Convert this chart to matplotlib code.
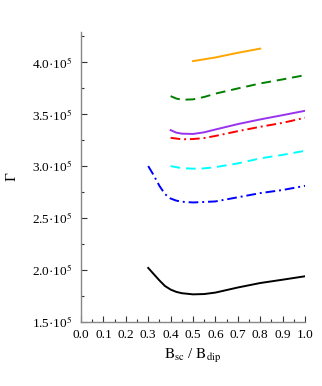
import numpy as np
import matplotlib.pyplot as plt
from matplotlib.ticker import MultipleLocator, FuncFormatter

plt.rcParams['font.family'] = ['Liberation Serif', 'DejaVu Serif']
plt.rcParams['mathtext.fontset'] = 'stix'

# (x = B_sc / B_dip, y = Gamma)
x_black = [0.30, 0.325, 0.35, 0.375, 0.40, 0.425, 0.45, 0.50, 0.55, 0.60, 0.70, 0.80, 0.90, 1.00]
y_black = [2.02e5, 1.96e5, 1.90e5, 1.846e5, 1.812e5, 1.79e5, 1.777e5, 1.766e5, 1.769e5, 1.783e5,
           1.832e5, 1.875e5, 1.907e5, 1.94e5]

x_blue = [0.30, 0.325, 0.35, 0.375, 0.40, 0.425, 0.45, 0.50, 0.60, 0.70, 0.80, 0.90, 1.00]
y_blue = [3.00e5, 2.91e5, 2.81e5, 2.73e5, 2.688e5, 2.668e5, 2.657e5, 2.65e5, 2.66e5, 2.70e5,
          2.74e5, 2.77e5, 2.81e5]

x_cyan = [0.40, 0.45, 0.50, 0.55, 0.60, 0.70, 0.80, 0.90, 1.00]
y_cyan = [3.00e5, 2.98e5, 2.975e5, 2.978e5, 2.99e5, 3.026e5, 3.074e5, 3.108e5, 3.147e5]

x_red = [0.40, 0.45, 0.50, 0.55, 0.60, 0.70, 0.80, 0.90, 1.00]
y_red = [3.272e5, 3.258e5, 3.26e5, 3.27e5, 3.29e5, 3.336e5, 3.378e5, 3.416e5, 3.465e5]

x_purple = [0.40, 0.425, 0.45, 0.50, 0.55, 0.60, 0.70, 0.80, 0.90, 1.00]
y_purple = [3.346e5, 3.322e5, 3.312e5, 3.309e5, 3.325e5, 3.352e5, 3.404e5, 3.449e5, 3.49e5, 3.532e5]

x_green = [0.40, 0.425, 0.45, 0.50, 0.55, 0.60, 0.70, 0.80, 0.90, 1.00]
y_green = [3.673e5, 3.65e5, 3.638e5, 3.642e5, 3.665e5, 3.697e5, 3.747e5, 3.795e5, 3.834e5, 3.875e5]

x_orange = [0.50, 0.60, 0.70, 0.80]
y_orange = [4.01e5, 4.045e5, 4.09e5, 4.13e5]

fig = plt.figure(figsize=(3.22, 3.86), dpi=100)
ax = fig.add_axes([0.2516, 0.1658, 0.6957, 0.7513])

lw = 1.4
ax.plot(x_black, y_black, color='black', lw=lw, ls='-')
ax.plot(x_blue, y_blue, color='blue', lw=lw, ls=(0, (5, 2, 1, 2)))
ax.plot(x_cyan, y_cyan, color='cyan', lw=lw, ls=(0, (5, 3)))
ax.plot(x_red, y_red, color='red', lw=lw, ls=(0, (5, 2, 1, 2)))
ax.plot(x_purple, y_purple, color='#9933ee', lw=lw, ls='-')
ax.plot(x_green, y_green, color='green', lw=lw, ls=(0, (5, 3)))
ax.plot(x_orange, y_orange, color='orange', lw=lw, ls='-')

ax.set_xlim(0, 1.0)
ax.set_ylim(1.5e5, 4.29e5)

for s in ['top', 'right']:
    ax.spines[s].set_visible(False)
for s in ['left', 'bottom']:
    ax.spines[s].set_color('#888888')
    ax.spines[s].set_linewidth(1.0)

ax.xaxis.set_major_locator(MultipleLocator(0.1))
ax.xaxis.set_minor_locator(MultipleLocator(0.05))
ax.yaxis.set_major_locator(MultipleLocator(0.5e5))
ax.yaxis.set_minor_locator(MultipleLocator(0.25e5))
ax.xaxis.set_major_formatter(FuncFormatter(lambda v, p: f'{v:.1f}'))
ax.yaxis.set_major_formatter(FuncFormatter(lambda v, p: f'{v / 1e5:.1f}·10$^{{5}}$'))

ax.tick_params(which='both', direction='in', labelsize=9.5, color='#333333', width=0.8)
ax.tick_params(which='major', length=4)
ax.tick_params(which='minor', length=2)
ax.tick_params(axis='x', which='major', pad=5)
ax.tick_params(axis='y', which='major', pad=6.5)

ax.set_xlabel(r'$\mathrm{B_{sc}}$ / $\mathrm{B_{dip}}$', fontsize=11, labelpad=4)
ax.set_ylabel('Γ', fontsize=11)
ax.yaxis.set_label_coords(-0.28, 0.5)

plt.savefig('out.png', dpi=100)
plt.close(fig)
